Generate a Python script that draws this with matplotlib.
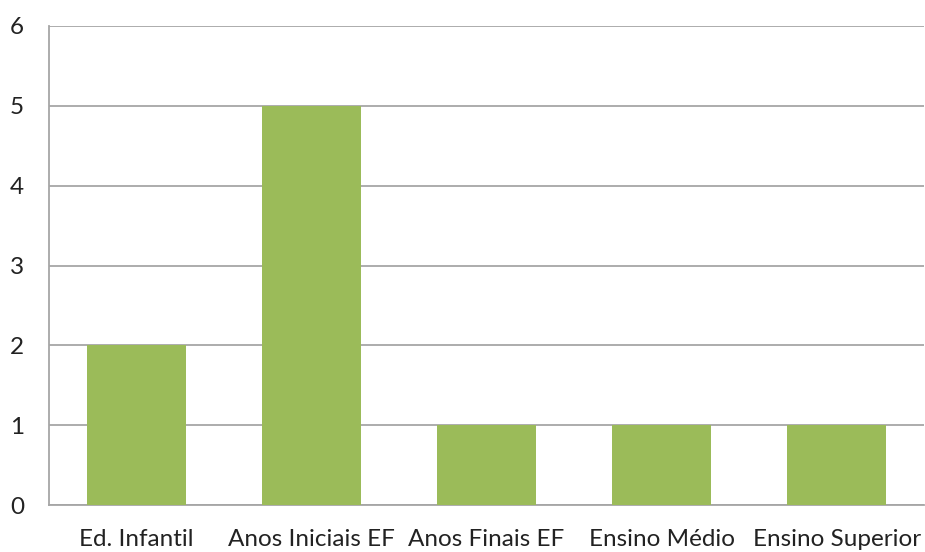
import matplotlib.pyplot as plt

categorias = ["Ed. Infantil", "Anos Iniciais EF", "Anos Finais EF", "Ensino Médio", "Ensino Superior"]
valores = [2, 5, 1, 1, 1]
yticks = [0, 1, 2, 3, 4, 5, 6]

plt.rcParams['font.family'] = ['Lato', 'DejaVu Sans']

fig = plt.figure(figsize=(9.25, 5.52), dpi=100)
ax = fig.add_axes([0.053, 0.085, 0.946, 0.868])

x = range(len(categorias))
ax.bar(x, valores, width=0.57, color='#9BBB59', zorder=3)

ax.set_xlim(-0.5, len(categorias) - 0.5)
ax.set_ylim(0, 6)
ax.set_yticks(yticks)
ax.set_xticks(list(x))
ax.set_xticklabels(categorias)

# linhas de grade horizontais
ax.grid(axis='y', color='#A6A6A6', linewidth=1.3, zorder=0)
for lado in ['top', 'right']:
    ax.spines[lado].set_visible(False)
for lado in ['left', 'bottom']:
    ax.spines[lado].set_color('#A6A6A6')
    ax.spines[lado].set_linewidth(1.3)

ax.tick_params(axis='both', length=0, labelsize=17.5, colors='#222222')
ax.tick_params(axis='y', pad=18)
ax.tick_params(axis='x', pad=17)

plt.savefig('out.png', dpi=100)
